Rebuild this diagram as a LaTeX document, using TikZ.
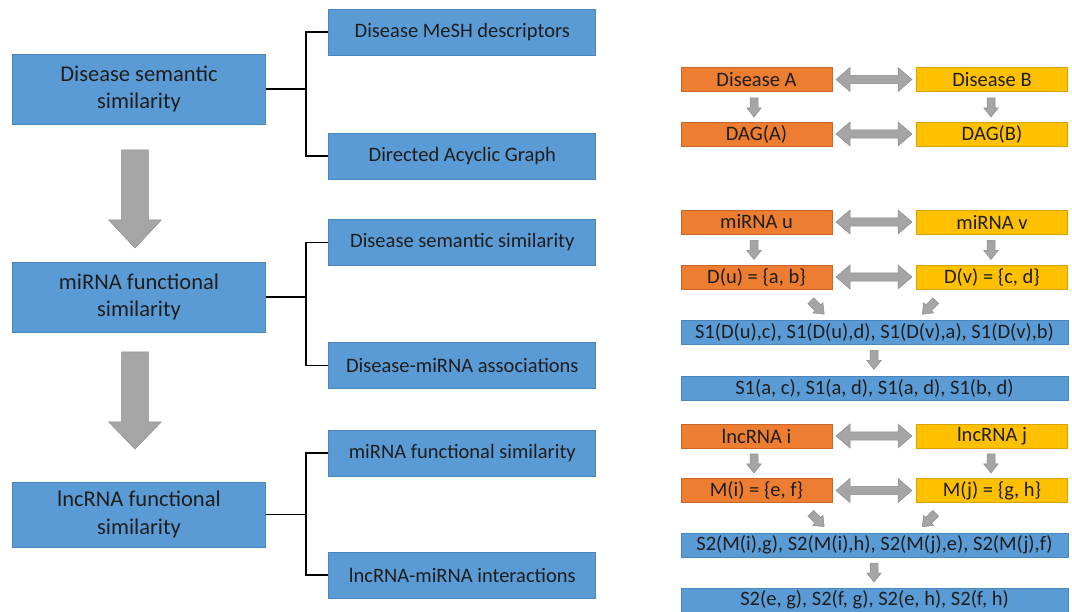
\documentclass[tikz,border=0pt]{standalone}
\usepackage{fontspec}
\setmainfont{Carlito}
\usetikzlibrary{calc}
\definecolor{bfill}{HTML}{5B9BD5}
\definecolor{bdraw}{HTML}{4A86BE}
\definecolor{ofill}{HTML}{ED7D31}
\definecolor{odraw}{HTML}{C7652A}
\definecolor{yfill}{HTML}{FFC000}
\definecolor{ydraw}{HTML}{D9A400}
\definecolor{gfill}{HTML}{A5A5A5}
\definecolor{gdraw}{HTML}{8C8C8C}
\definecolor{txt}{HTML}{1E1E1E}
% down arrow: x, ytop, ytip, shaft half width, head half width, head length
\newcommand\garrdn[6]{%
  \filldraw[garrow] (#1-#4,#2) -- (#1+#4,#2) -- (#1+#4,#3-#6) -- (#1+#5,#3-#6)
    -- (#1,#3) -- (#1-#5,#3-#6) -- (#1-#4,#3-#6) -- cycle;}
% double horizontal arrow: x1, x2, y
\newcommand\garrlr[3]{%
  \filldraw[garrow] (#1,#3) -- (#1+14,#3-12) -- (#1+14,#3-4.2) -- (#2-14,#3-4.2)
    -- (#2-14,#3-12) -- (#2,#3) -- (#2-14,#3+12) -- (#2-14,#3+4.2)
    -- (#1+14,#3+4.2) -- (#1+14,#3+12) -- cycle;}
\begin{document}
\begin{tikzpicture}[x=1pt,y=-1pt,
  garrow/.style={fill=gfill,draw=gdraw,line width=0.5pt,line join=miter},
  box/.style={draw=bdraw,fill=bfill,line width=0.8pt,inner sep=0pt,anchor=center,text=txt},
  mainbox/.style={box,minimum width=253pt,minimum height=70pt,align=center,
    font=\fontsize{22.5}{27.5}\selectfont},
  subbox/.style={box,minimum width=267pt,minimum height=46pt,
    font=\fontsize{20.5}{24}\selectfont},
  rbox/.style={box,minimum height=24pt,font=\fontsize{20.5}{24}\selectfont},
  obox/.style={rbox,fill=ofill,draw=odraw,minimum width=151pt},
  ybox/.style={rbox,fill=yfill,draw=ydraw,minimum width=151pt},
  wbox/.style={rbox,minimum width=387pt},
  link/.style={draw=black,line width=1.6pt}
]
\useasboundingbox (0,0) rectangle (1072,612);

% ---------- left column ----------
\node[mainbox] (m1) at (139,89) {Disease semantic\\similarity};
\node[mainbox] (m2) at (139,297) {miRNA functional\\similarity};
\node[mainbox,minimum height=65pt] (m3) at (139,514.5) {lncRNA functional\\similarity};

\node[subbox] (c1) at (462.3,32) {Disease MeSH descriptors};
\node[subbox] (c2) at (462.3,156) {Directed Acyclic Graph};
\node[subbox] (c3) at (462.3,242.5) {Disease semantic similarity};
\node[subbox] (c4) at (462.3,365.5) {Disease-miRNA associations};
\node[subbox] (c5) at (462.3,453) {miRNA functional similarity};
\node[subbox] (c6) at (462.3,575) {lncRNA-miRNA interactions};

\coordinate (j1) at ($(m1.east)+(40,0)$);
\coordinate (j2) at ($(m2.east)+(40,0)$);
\coordinate (j3) at ($(m3.east)+(40,0)$);
\draw[link] (m1.east) -- (j1);
\draw[link] (c1.west) -| (j1) |- (c2.west);
\draw[link] (m2.east) -- (j2);
\draw[link] (c3.west) -| (j2) |- (c4.west);
\draw[link] (m3.east) -- (j3);
\draw[link] (c5.west) -| (j3) |- (c6.west);

\garrdn{135}{150}{248}{13.3}{26.3}{28}
\garrdn{135}{352}{449}{13.3}{26.3}{27}

% ---------- right column ----------
\node[obox] (dA) at (756.5,79.5) {Disease A};
\node[ybox] (dB) at (992,79.5) {Disease B};
\node[obox] (gA) at (756.5,134) {DAG(A)};
\node[ybox] (gB) at (992,134) {DAG(B)};

\node[obox] (mu) at (756.5,222) {miRNA u};
\node[ybox] (mv) at (992,222) {miRNA v};
\node[obox] (Du) at (756.5,277) {D(u) = \{a, b\}};
\node[ybox] (Dv) at (992,277) {D(v) = \{c, d\}};
\node[wbox] (s1) at (874.5,332) {S1(D(u),c), S1(D(u),d), S1(D(v),a), S1(D(v),b)};
\node[wbox] (s1b) at (874.5,388) {S1(a, c), S1(a, d), S1(a, d), S1(b, d)};

\node[obox] (li) at (756.5,436) {lncRNA i};
\node[ybox] (lj) at (992,436) {lncRNA j};
\node[obox] (Mi) at (756.5,490.5) {M(i) = \{e, f\}};
\node[ybox] (Mj) at (992,490.5) {M(j) = \{g, h\}};
\node[wbox] (s2) at (874.5,545) {S2(M(i),g), S2(M(i),h), S2(M(j),e), S2(M(j),f)};
\node[wbox] (s2b) at (874.5,600) {S2(e, g), S2(f, g), S2(e, h), S2(f, h)};

% double arrows
\garrlr{836}{912}{79.5}
\garrlr{836}{912}{134}
\garrlr{836}{912}{222}
\garrlr{836}{912}{277}
\garrlr{836}{912}{436}
\garrlr{836}{912}{490.5}

% small down arrows
\garrdn{754}{98}{117}{4}{7.2}{9}
\garrdn{991}{98}{117}{4}{7.2}{9}
\garrdn{754}{240.5}{259.5}{4}{7.2}{9}
\garrdn{991}{240.5}{259.5}{4}{7.2}{9}
\garrdn{874}{350.5}{369.5}{4}{7.2}{9}
\garrdn{754}{454}{473}{4}{7.2}{9}
\garrdn{991}{454}{473}{4}{7.2}{9}
\garrdn{874}{563}{582}{4}{7.2}{9}

% diagonal arrows
\begin{scope}[shift={(817.5,307.5)},rotate=45]\garrdn{0}{-9.5}{9.5}{4}{7.2}{9}\end{scope}
\begin{scope}[shift={(929,307.5)},rotate=-45]\garrdn{0}{-9.5}{9.5}{4}{7.2}{9}\end{scope}
\begin{scope}[shift={(817.5,520)},rotate=45]\garrdn{0}{-9.5}{9.5}{4}{7.2}{9}\end{scope}
\begin{scope}[shift={(929,520)},rotate=-45]\garrdn{0}{-9.5}{9.5}{4}{7.2}{9}\end{scope}
\end{tikzpicture}
\end{document}
